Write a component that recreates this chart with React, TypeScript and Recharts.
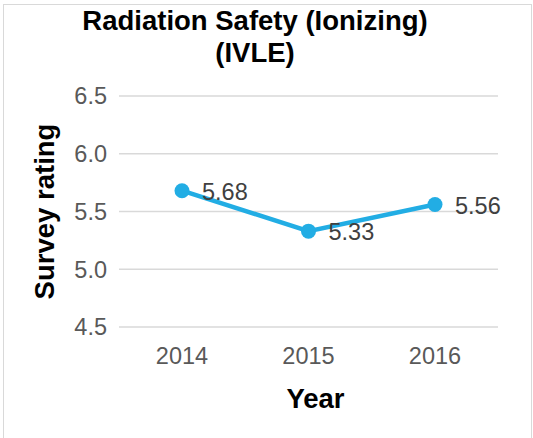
import React from "react";
import { LineChart, Line, XAxis, YAxis, CartesianGrid, LabelList, Label } from "recharts";

const YEARS = ["2014", "2015", "2016"];
const RATINGS = [5.68, 5.33, 5.56];
const Y_TICKS = [4.5, 5.0, 5.5, 6.0, 6.5];
const TITLE = ["Radiation Safety (Ionizing)", "(IVLE)"];

const DATA = YEARS.map((year, i) => ({ year, rating: RATINGS[i] }));

const FONT = "'Liberation Sans', Arial, sans-serif";
const BLUE = "#22ade4";

const ValueLabel = (props: any) => {
  const { x, y, value } = props;
  return (
    <text x={x + 20} y={y + 1} dy="0.355em" fill="#404040" fontSize={23.5} fontFamily={FONT}>
      {Number(value).toFixed(2)}
    </text>
  );
};

export default function App() {
  return (
    <div style={{ position: "absolute", left: 0, top: 0, width: 533, height: 438, overflow: "hidden", background: "#fff", fontFamily: FONT }}>
      <div style={{ position: "absolute", left: 3, top: 4, width: 527, height: 440, border: "1px solid #d9d9d9" }} />
      <div style={{ position: "absolute", left: 0, top: 5, width: 510, textAlign: "center", fontSize: 27.5, fontWeight: "bold", lineHeight: "32px", color: "#000" }}>
        {TITLE.map((t) => <div key={t}>{t}</div>)}
      </div>
      <LineChart width={533} height={438} data={DATA} margin={{ top: 96, right: 35, bottom: 0, left: 0 }} style={{ position: "absolute", left: 0, top: 0 }}>
        <CartesianGrid stroke="#d9d9d9" strokeWidth={1.5} vertical={false} />
        <XAxis
          dataKey="year"
          height={111}
          axisLine={false}
          tickLine={false}
          tickSize={0}
          tickMargin={20}
          padding={{ left: 63, right: 63 }}
          tick={{ fill: "#595959", fontSize: 23.5, fontFamily: FONT }}
        >
          <Label value="Year" position="insideBottom" offset={30} dx={7} fill="#000" fontSize={27.5} fontWeight="bold" fontFamily={FONT} />
        </XAxis>
        <YAxis
          width={119}
          domain={[4.5, 6.5]}
          ticks={Y_TICKS}
          axisLine={false}
          tickLine={false}
          tickSize={0}
          tickMargin={12}
          tickFormatter={(v: number) => v.toFixed(1)}
          tick={{ fill: "#595959", fontSize: 23.5, fontFamily: FONT }}
        >
          <Label
            content={({ viewBox }: any) => {
              const cx = viewBox.x + 44;
              const cy = viewBox.y + viewBox.height / 2;
              return (
                <text x={cx} y={cy} transform={`rotate(-90 ${cx} ${cy})`} textAnchor="middle" dominantBaseline="central" fill="#000" fontSize={27.5} fontWeight="bold" fontFamily={FONT}>
                  Survey rating
                </text>
              );
            }}
          />
        </YAxis>
        <Line
          dataKey="rating"
          stroke={BLUE}
          strokeWidth={4.5}
          dot={{ r: 7.5, fill: BLUE, stroke: "none" }}
          isAnimationActive={false}
        >
          <LabelList dataKey="rating" content={ValueLabel} />
        </Line>
      </LineChart>
    </div>
  );
}
